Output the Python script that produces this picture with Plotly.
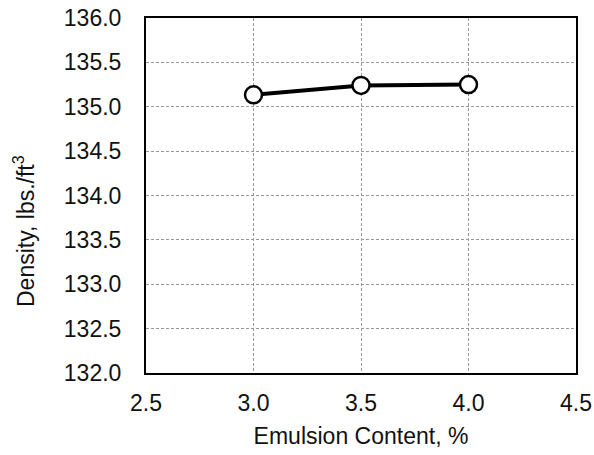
import plotly.graph_objects as go

emulsion = [3.0, 3.5, 4.0]
density = [135.135, 135.24, 135.25]
x_ticks = [2.5, 3.0, 3.5, 4.0, 4.5]
y_ticks = [132.0, 132.5, 133.0, 133.5, 134.0, 134.5, 135.0, 135.5, 136.0]

W, H = 594, 455
L, R, T, B = 146, 18, 18, 82
pw, ph = W - L - R, H - T - B

fig = go.Figure()
fig.add_trace(go.Scatter(
    x=emulsion, y=density, mode="lines+markers",
    line=dict(color="black", width=4),
    marker=dict(size=17, color="white", line=dict(color="black", width=2.5)),
    showlegend=False, cliponaxis=False,
))

font = dict(family="Liberation Sans, Arial, sans-serif", size=23, color="#111111")

fig.update_layout(
    width=W, height=H,
    margin=dict(l=L, r=R, t=T, b=B, autoexpand=False),
    paper_bgcolor="white", plot_bgcolor="white",
    font=font,
    xaxis=dict(
        range=[2.5, 4.5], tickvals=x_ticks, ticktext=[f"{v:.1f}" for v in x_ticks],
        showgrid=True, gridcolor="#999999", griddash="3px,2px", gridwidth=1,
        showline=True, linecolor="black", linewidth=2, mirror=True,
        zeroline=False, ticks="", ticklabelstandoff=8, automargin=False,
        ticklabeloverflow="allow",
        title=dict(text="Emulsion Content, %", font=font, standoff=13),
    ),
    yaxis=dict(
        range=[132.0, 136.0], tickvals=y_ticks, ticktext=[f"{v:.1f}" for v in y_ticks],
        showgrid=True, gridcolor="#999999", griddash="3px,2px", gridwidth=1,
        showline=True, linecolor="black", linewidth=2, mirror=True,
        zeroline=False, ticks="", ticklabelstandoff=18, automargin=False,
    ),
    annotations=[dict(
        text="Density, lbs./ft<sup>3</sup>", textangle=-90,
        xref="paper", yref="paper",
        x=(24 - L) / pw, y=1 - (231 - T) / ph,
        xanchor="center", yanchor="middle", showarrow=False, font=font,
    )],
)

fig.write_html("out.html", config={"displayModeBar": False},
               post_script="document.body.style.margin='0px';")
